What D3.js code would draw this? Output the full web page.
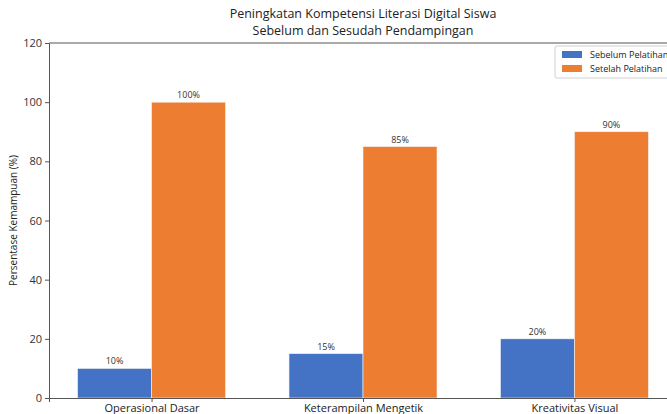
<!DOCTYPE html>
<html>
<head>
<meta charset="utf-8">
<script src="https://cdn.jsdelivr.net/npm/d3@7"></script>
<style>
  body { margin: 0; background: #fff; }
  svg { display: block; font-family: "Open Sans", sans-serif; }
</style>
</head>
<body>
<div id="chart"></div>
<script>
// Data
var categories = ["Operasional Dasar", "Keterampilan Mengetik", "Kreativitas Visual"];
var seriesNames = ["Sebelum Pelatihan", "Setelah Pelatihan"];
var sebelum = [10, 15, 20];
var setelah = [100, 85, 90];
var yTicks = [0, 20, 40, 60, 80, 100, 120];

var svgWidth = 667;
var svgHeight = 414;

// axes box (right edge runs past the picture, like the reference)
var margin = { top: 43, left: 49, bottom: 16 };
var plotRight = 677;
var chartWidth = plotRight - margin.left;
var chartHeight = svgHeight - margin.top - margin.bottom;

var colors = ["#4472C4", "#ED7D31"];

var svg = d3.select("#chart")
  .append("svg")
  .attr("width", svgWidth)
  .attr("height", svgHeight);

var chartGroup = svg.append("g")
  .attr("transform", `translate(${margin.left}, ${margin.top})`);

// x scale in category units, like matplotlib (bars 0.35 wide)
var barW = 0.35;
var xScale = d3.scaleLinear()
  .domain([-0.485, categories.length - 1 + 0.485])
  .range([0, chartWidth]);

var yScale = d3.scaleLinear()
  .domain([0, 120])
  .range([chartHeight, 0]);

// bars
var bars = [];
categories.forEach(function(c, i) {
  bars.push({ x: i - barW, v: sebelum[i], s: 0 });
  bars.push({ x: i, v: setelah[i], s: 1 });
});

chartGroup.selectAll("rect.bar")
  .data(bars)
  .enter()
  .append("rect")
  .attr("class", "bar")
  .attr("x", d => xScale(d.x))
  .attr("width", d => xScale(d.x + barW) - xScale(d.x))
  .attr("y", d => yScale(d.v))
  .attr("height", d => chartHeight - yScale(d.v))
  .attr("fill", d => colors[d.s])
  .attr("stroke", "#f4f4f4")
  .attr("stroke-width", 0.6);

// value labels
chartGroup.selectAll("text.val")
  .data(bars)
  .enter()
  .append("text")
  .attr("class", "val")
  .attr("x", d => xScale(d.x + barW / 2))
  .attr("y", d => yScale(d.v) - 4)
  .attr("text-anchor", "middle")
  .style("font-size", "9px")
  .style("fill", "#333")
  .text(d => d.v + "%");

// y axis
var yAxis = d3.axisLeft(yScale).tickValues(yTicks).tickSize(4).tickPadding(3);
var yg = chartGroup.append("g").call(yAxis);
yg.select(".domain").attr("stroke", "#555");
yg.selectAll(".tick line").attr("stroke", "#555");
yg.selectAll(".tick text").style("font-size", "11px").style("fill", "#333")
  .style("font-family", "Open Sans, sans-serif");

// x axis
var xAxis = d3.axisBottom(xScale)
  .tickValues(d3.range(categories.length))
  .tickFormat(i => categories[i])
  .tickSize(4).tickPadding(2);
var xg = chartGroup.append("g")
  .attr("transform", `translate(0, ${chartHeight})`)
  .call(xAxis);
xg.select(".domain").attr("stroke", "#555");
xg.selectAll(".tick line").attr("stroke", "#555");
xg.selectAll(".tick text").style("font-size", "11px").style("fill", "#222")
  .style("font-family", "Open Sans, sans-serif");

// top and right spines
chartGroup.append("line")
  .attr("x1", 0).attr("x2", chartWidth).attr("y1", 0).attr("y2", 0)
  .attr("stroke", "#555");
chartGroup.append("line")
  .attr("x1", chartWidth).attr("x2", chartWidth).attr("y1", 0).attr("y2", chartHeight)
  .attr("stroke", "#555");

// title
var titleLines = ["Peningkatan Kompetensi Literasi Digital Siswa", "Sebelum dan Sesudah Pendampingan"];
titleLines.forEach(function(t, i) {
  svg.append("text")
    .attr("x", margin.left + chartWidth / 2)
    .attr("y", 18 + i * 17)
    .attr("text-anchor", "middle")
    .style("font-size", "12.5px")
    .style("fill", "#222")
    .text(t);
});

// y label
svg.append("text")
  .attr("transform", "rotate(-90)")
  .attr("x", -(margin.top + chartHeight / 2))
  .attr("y", 17)
  .attr("text-anchor", "middle")
  .style("font-size", "10px")
  .style("fill", "#222")
  .text("Persentase Kemampuan (%)");

// legend
var legend = svg.append("g").attr("transform", "translate(555, 46)");
legend.append("rect")
  .attr("width", 120).attr("height", 32).attr("rx", 2)
  .attr("fill", "#fff").attr("stroke", "#d0d0d0");
seriesNames.forEach(function(n, i) {
  legend.append("rect")
    .attr("x", 7).attr("y", 5 + i * 14)
    .attr("width", 20).attr("height", 7)
    .attr("fill", colors[i]);
  legend.append("text")
    .attr("x", 35).attr("y", 12 + i * 14)
    .style("font-size", "9px")
    .style("fill", "#222")
    .text(n);
});
</script>
</body>
</html>
